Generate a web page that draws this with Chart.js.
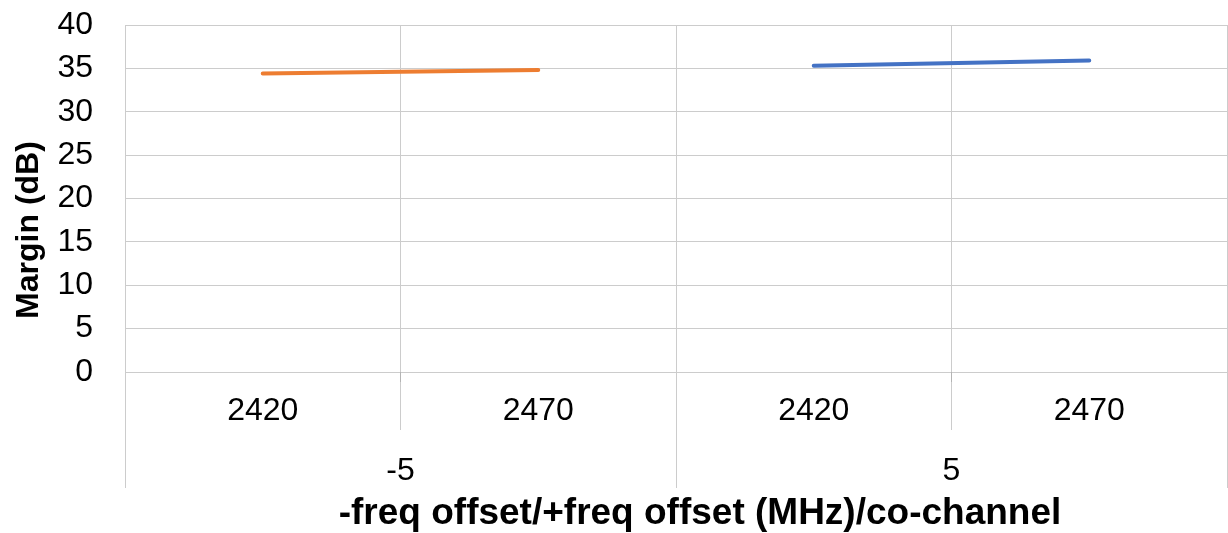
<!DOCTYPE html>
<html>
<head>
<meta charset="utf-8">
<script src="https://cdn.jsdelivr.net/npm/chart.js@4"></script>
<style>
  body { margin: 0; background: #fff; }
  #mycanvas { display: block; }
</style>
</head>
<body>
<canvas id="mycanvas" width="1228" height="533"></canvas>
<script>
// values
var freqLabels = ["2420", "2470", "2420", "2470"];
var offsetGroups = ["-5", "5"];
var minusOffset = [34.4, 34.8, null, null];
var plusOffset = [null, null, 35.3, 35.9];
var yAxisTitle = "Margin (dB)";
var xAxisTitle = "-freq offset/+freq offset (MHz)/co-channel";

var gridColor = "#cccccc";
var font = "'Liberation Sans', Arial, sans-serif";

// draws the lines under the axis, the group labels and both axis titles
var groupAxis = {
  id: "groupAxis",
  afterDraw: function(chart) {
    var ctx = chart.ctx;
    var xs = chart.scales.x;
    var area = chart.chartArea;
    var n = freqLabels.length;
    ctx.save();
    ctx.lineWidth = 1;
    for (var i = 0; i <= n; i++) {
      var px;
      if (i == 0) px = area.left;
      else if (i == n) px = area.right;
      else px = (xs.getPixelForValue(i - 1) + xs.getPixelForValue(i)) / 2;
      px = Math.round(px - 0.5) + 0.5;
      ctx.strokeStyle = gridColor;
      ctx.beginPath();
      ctx.moveTo(px, area.bottom);
      ctx.lineTo(px, i % 2 == 0 ? 488 : 430);
      ctx.stroke();
      if (i % 2 == 1) {
        // small darker tick mark just under the axis
        ctx.strokeStyle = "#b4b4b4";
        ctx.beginPath();
        ctx.moveTo(px, area.bottom);
        ctx.lineTo(px, area.bottom + 10);
        ctx.stroke();
      }
    }

    ctx.fillStyle = "#000";
    ctx.textAlign = "center";
    ctx.textBaseline = "middle";
    ctx.font = "32px " + font;
    for (var g = 0; g < offsetGroups.length; g++) {
      var cx = (xs.getPixelForValue(g * 2) + xs.getPixelForValue(g * 2 + 1)) / 2;
      ctx.fillText(offsetGroups[g], cx, 471);
    }

    ctx.font = "bold 37px " + font;
    ctx.textBaseline = "alphabetic";
    ctx.fillText(xAxisTitle, 700, 524);

    ctx.translate(29, 230);
    ctx.rotate(-Math.PI / 2);
    ctx.textBaseline = "middle";
    ctx.font = "bold 32px " + font;
    ctx.fillText(yAxisTitle, 0, 0);
    ctx.restore();
  }
};

var ctx = document.getElementById("mycanvas");

var LineGraph = new Chart(ctx, {
  type: "line",
  data: {
    labels: freqLabels,
    datasets: [
      {
        label: "-5",
        data: minusOffset,
        borderColor: "#ED7D31",
        backgroundColor: "#ED7D31",
        borderWidth: 4,
        borderCapStyle: "round",
        pointRadius: 0,
        fill: false,
        spanGaps: false
      },
      {
        label: "5",
        data: plusOffset,
        borderColor: "#4472C4",
        backgroundColor: "#4472C4",
        borderWidth: 4,
        borderCapStyle: "round",
        pointRadius: 0,
        fill: false,
        spanGaps: false
      }
    ]
  },
  options: {
    responsive: false,
    animation: false,
    devicePixelRatio: 1,
    layout: { padding: { top: 25, right: 1, bottom: 0, left: 0 } },
    plugins: {
      legend: { display: false },
      tooltip: { enabled: false }
    },
    scales: {
      x: {
        offset: true,
        grid: { offset: true, color: gridColor, drawTicks: false },
        border: { display: false },
        ticks: { color: "#000", font: { family: font, size: 32 }, padding: 20, maxRotation: 0 },
        afterFit: function(s) {
          s.height = 161;
          s.paddingLeft = 0;
          s.paddingRight = 0;
        }
      },
      y: {
        min: 0,
        max: 40,
        grid: { color: gridColor, drawTicks: false },
        border: { display: false },
        ticks: { stepSize: 5, color: "#000", font: { family: font, size: 32 }, padding: 32 },
        afterFit: function(s) {
          s.width = 125;
          s.paddingTop = 0;
          s.paddingBottom = 0;
        }
      }
    }
  },
  plugins: [groupAxis]
});
</script>
</body>
</html>
